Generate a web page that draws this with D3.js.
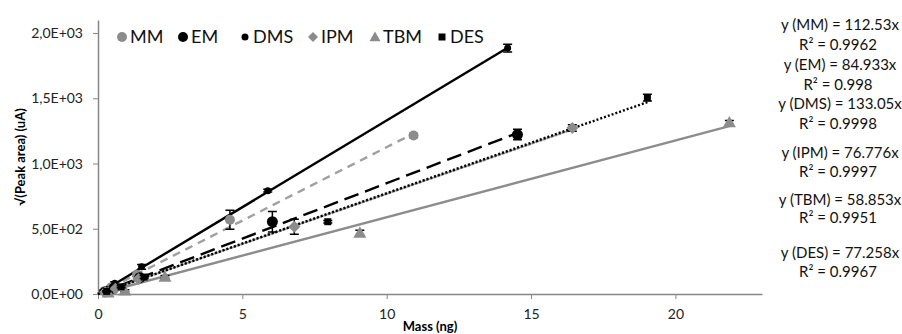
<!DOCTYPE html>
<html>
<head>
<meta charset="utf-8">
<script src="https://cdn.jsdelivr.net/npm/d3@7"></script>
<style>
  body { margin: 0; background: #fff; }
  text { font-family: Lato, 'Noto Sans', sans-serif; }
</style>
</head>
<body>
<div id="chart"></div>
<script>
// Series names, in legend order.
const seriesNames = ['MM', 'EM', 'DMS', 'IPM', 'TBM', 'DES'];

// Measured points: mass (ng), sqrt(peak area), error (sd).
const mmX = [0.22, 0.45, 1.35, 4.57, 10.93];
const mmY = [22, 50, 150, 569, 1215];
const mmErr = [8, 10, 15, 72, 15];

const emX = [0.3, 0.55, 1.45, 6.04, 14.53];
const emY = [20, 45, 125, 554, 1222];
const emErr = [6, 10, 18, 78, 40];

const dmsX = [0.2, 0.58, 1.51, 5.88, 14.19];
const dmsY = [25, 82, 208, 792, 1885];
const dmsErr = [6, 12, 18, 10, 30];

const ipmX = [0.25, 0.6, 1.4, 6.8, 16.43];
const ipmY = [15, 40, 115, 515, 1272];
const ipmErr = [5, 8, 12, 58, 25];

const tbmX = [0.35, 0.93, 2.32, 9.07, 21.87];
const tbmY = [10, 25, 131, 469, 1315];
const tbmErr = [5, 8, 10, 20, 15];

const desX = [0.3, 0.8, 1.6, 7.96, 19.03];
const desY = [20, 55, 130, 554, 1505];
const desErr = [5, 8, 12, 10, 25];

// Regression (through origin) slopes and R².
const slopes = [112.53, 84.933, 133.05, 76.776, 58.853, 77.258];
const rSquared = ['0.9962', '0.998', '0.9998', '0.9997', '0.9951', '0.9967'];
const eqLabels = ['y (MM) = 112.53x', 'y (EM) = 84.933x', 'y (DMS) = 133.05x',
  'y  (IPM) = 76.776x', 'y (TBM) = 58.853x', 'y (DES) = 77.258x'];

// Axis ticks.
const xTicks = [0, 5, 10, 15, 20];
const yTicks = [0, 500, 1000, 1500, 2000];
const yTickLabels = ['0,0E+00', '5,0E+02', '1,0E+03', '1,5E+03', '2,0E+03'];

const width = 902, height = 334;
const margin = { top: 20, right: 140, bottom: 40, left: 98 };

const x = d3.scaleLinear().domain([0, 23]).range([margin.left, width - margin.right]);
const y = d3.scaleLinear().domain([0, 2100]).range([height - margin.bottom, margin.top]);

// Styles per series.
const styles = {
  MM:  { marker: 'circle', size: 5, fill: '#8c8c8c', line: '#a0a0a0', dash: '8,6' },
  EM:  { marker: 'circle', size: 5.5, fill: '#000', line: '#000', dash: '15,7' },
  DMS: { marker: 'circle', size: 3.5, fill: '#000', line: '#000', dash: null },
  IPM: { marker: 'diamond', size: 6, fill: '#8c8c8c', line: '#8c8c8c', dash: '1.5,2.5', cap: 'round' },
  TBM: { marker: 'triangle', size: 6.5, fill: '#8c8c8c', line: '#8c8c8c', dash: null },
  DES: { marker: 'square', size: 3.5, fill: '#000', line: '#000', dash: '2,2' },
};

const data = [
  { name: 'MM', xs: mmX, ys: mmY, err: mmErr },
  { name: 'EM', xs: emX, ys: emY, err: emErr },
  { name: 'DMS', xs: dmsX, ys: dmsY, err: dmsErr },
  { name: 'IPM', xs: ipmX, ys: ipmY, err: ipmErr },
  { name: 'TBM', xs: tbmX, ys: tbmY, err: tbmErr },
  { name: 'DES', xs: desX, ys: desY, err: desErr },
].map((s, i) => ({
  name: s.name,
  slope: slopes[i],
  points: s.xs.map((v, j) => ({ x: v, y: s.ys[j], e: s.err[j] })),
}));

function markerPath(type, r) {
  if (type === 'circle') return d3.symbol(d3.symbolCircle, Math.PI * r * r)();
  if (type === 'diamond') return `M0,${-r}L${r},0L0,${r}L${-r},0Z`;
  if (type === 'triangle') return `M0,${-r}L${r},${r * 0.75}L${-r},${r * 0.75}Z`;
  return `M${-r},${-r}H${r}V${r}H${-r}Z`;
}

const svg = d3.select('#chart').append('svg')
  .attr('width', width).attr('height', height)
  .style('display', 'block');

const axisColor = '#868686';

// X axis.
const xAx = svg.append('g')
  .attr('transform', `translate(0,${y(0)})`)
  .call(d3.axisBottom(x).tickValues(xTicks).tickSize(5).tickPadding(10).tickSizeOuter(0));
xAx.select('.domain').attr('stroke', axisColor).attr('stroke-width', 1.5);
xAx.selectAll('.tick line').attr('stroke', axisColor);
xAx.selectAll('.tick text').attr('font-size', 14).attr('fill', '#222')
  .style('font-family', 'Lato, sans-serif');

// Y axis.
const yAx = svg.append('g')
  .attr('transform', `translate(${x(0)},0)`)
  .call(d3.axisLeft(y).tickValues(yTicks).tickSize(5).tickPadding(10).tickSizeOuter(0)
    .tickFormat((d, i) => yTickLabels[i]));
yAx.select('.domain').attr('stroke', axisColor).attr('stroke-width', 1.5);
yAx.selectAll('.tick line').attr('stroke', axisColor);
yAx.selectAll('.tick text').attr('font-size', 14).attr('fill', '#222')
  .style('font-family', 'Lato, sans-serif');

// Axis titles.
svg.append('text')
  .attr('x', (x.range()[0] + x.range()[1]) / 2).attr('y', 331)
  .attr('text-anchor', 'middle').attr('font-size', 13).attr('font-weight', 'bold')
  .text('Mass (ng)');

svg.append('text')
  .attr('transform', `translate(25,${(y.range()[0] + y.range()[1]) / 2}) rotate(-90)`)
  .attr('text-anchor', 'middle').attr('font-size', 13).attr('font-weight', 'bold')
  .text('√(Peak area) (uA)');

// Trendlines from origin to last point.
const plot = svg.append('g');
data.forEach(s => {
  const st = styles[s.name];
  const xMax = d3.max(s.points, p => p.x);
  plot.append('line')
    .attr('x1', x(0)).attr('y1', y(0))
    .attr('x2', x(xMax)).attr('y2', y(s.slope * xMax))
    .attr('stroke', st.line).attr('stroke-width', 2.4)
    .attr('stroke-dasharray', st.dash)
    .attr('stroke-linecap', st.cap || 'butt');
});

// Error bars + markers.
data.forEach(s => {
  const st = styles[s.name];
  const g = plot.append('g').attr('class', 'series-' + s.name);
  const pts = g.selectAll('g.pt').data(s.points).enter().append('g').attr('class', 'pt');
  pts.append('path')
    .attr('d', p => `M${x(p.x)},${y(p.y - p.e)}V${y(p.y + p.e)}` +
      `M${x(p.x) - 4.5},${y(p.y - p.e)}h9M${x(p.x) - 4.5},${y(p.y + p.e)}h9`)
    .attr('stroke', '#000').attr('stroke-width', 1.5).attr('fill', 'none');
  pts.append('path')
    .attr('transform', p => `translate(${x(p.x)},${y(p.y)})`)
    .attr('d', markerPath(st.marker, st.size))
    .attr('fill', st.fill);
});

// Legend.
const legendX = [122, 183, 245, 313, 375, 442];
const legend = svg.append('g');
seriesNames.forEach((n, i) => {
  const st = styles[n];
  const r = n === 'MM' || n === 'EM' ? 5 : st.marker === 'triangle' ? 5.5 : st.marker === 'diamond' ? 5 : 3.5;
  legend.append('path')
    .attr('transform', `translate(${legendX[i]},37)`)
    .attr('d', markerPath(st.marker, r))
    .attr('fill', st.fill);
  legend.append('text')
    .attr('x', legendX[i] + 8).attr('y', 43)
    .attr('font-size', 18).attr('fill', '#111')
    .text(n);
});

// Regression equations on the right.
const eqY = [25, 45, 65, 85, 104, 124, 153, 172, 200, 218, 253, 272];
const eq = svg.append('g').attr('font-size', 15).attr('fill', '#111').attr('text-anchor', 'middle');
eqLabels.forEach((t, i) => {
  eq.append('text').attr('x', 840).attr('y', eqY[i * 2] + 5).text(t);
  eq.append('text').attr('x', 838).attr('y', eqY[i * 2 + 1] + 5).text('R² = ' + rSquared[i]);
});
</script>
</body>
</html>
